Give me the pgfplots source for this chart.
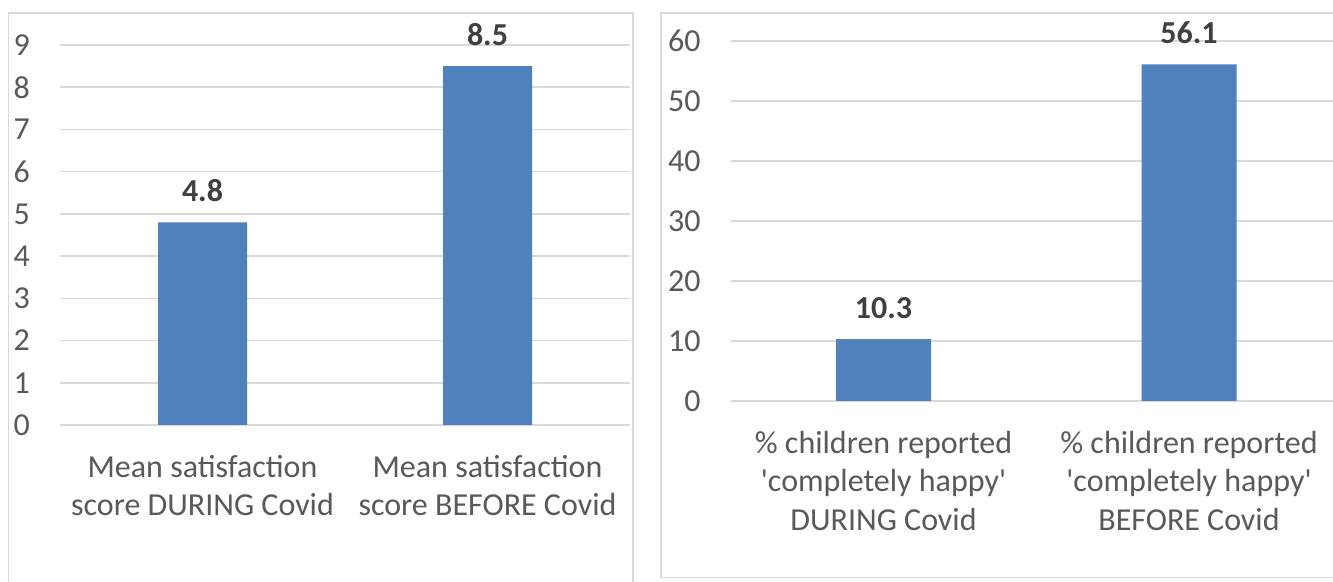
\documentclass[border=0pt]{standalone}
\usepackage{fontspec}
\setmainfont{Carlito}
\usepackage{pgfplots}
\pgfplotsset{compat=1.18}

\definecolor{barblue}{HTML}{4F81BD}
\definecolor{gridgray}{HTML}{D9D9D9}
\definecolor{ticktext}{HTML}{595959}
\definecolor{valtext}{HTML}{404040}

\pgfplotsset{
  panel/.style={
    scale only axis, anchor=south west, clip=false,
    xmin=-0.5, xmax=1.5, ymin=0,
    xtick={0,1},
    axis line style={draw=none}, major tick length=0pt,
    ymajorgrids, grid style={gridgray, line width=1.1pt},
    tick label style={font=\fontsize{24}{28.8}\selectfont, text=ticktext},
    /pgf/number format/assume math mode=true,
    yticklabel style={anchor=east, inner sep=0pt, xshift=-22.5pt},
    xticklabel style={anchor=north, inner sep=0pt, yshift=-22.5pt, align=center},
    ybar,
    nodes near coords,
    nodes near coords style={font=\bfseries\fontsize{24}{28.8}\selectfont,
      text=valtext, anchor=south, inner sep=0pt, yshift=15pt},
  },
}

\begin{document}
\begin{tikzpicture}
  \clip (0pt,0pt) rectangle (999.75pt,435.75pt);
  \fill[white] (0pt,0pt) rectangle (999.75pt,435.75pt);
  % panel frames
  \draw[gridgray, line width=1.2pt] (6.4pt,-5pt) -- (6.4pt,426.2pt) -- (474.75pt,426.2pt) -- (474.75pt,-5pt);
  \draw[gridgray, line width=1.2pt] (1010pt,2.5pt) -- (495.75pt,2.5pt) -- (495.75pt,426.2pt) -- (1010pt,426.2pt);

  % mean satisfaction score
  \begin{axis}[panel,
      at={(45pt,117pt)}, width=427.5pt, height=285pt,
      ymax=9, ytick={0,1,...,9},
      bar width=66.75pt,
      xticklabels={{Mean satisfaction\\score DURING Covid},{Mean satisfaction\\score BEFORE Covid}},
    ]
    \addplot[fill=barblue, draw=none] coordinates {(0,4.8) (1,8.5)};
  \end{axis}

  % share of children completely happy
  \begin{axis}[panel,
      at={(548.06pt,135pt)}, width=458.25pt, height=270pt,
      ymax=60, ytick={0,10,...,60},
      bar width=71.25pt,
      xticklabels={{\% children reported\\\textquotesingle completely happy\textquotesingle\\DURING Covid},
                   {\% children reported\\\textquotesingle completely happy\textquotesingle\\BEFORE Covid}},
    ]
    \addplot[fill=barblue, draw=none] coordinates {(0,10.3) (1,56.1)};
  \end{axis}
\end{tikzpicture}
\end{document}
